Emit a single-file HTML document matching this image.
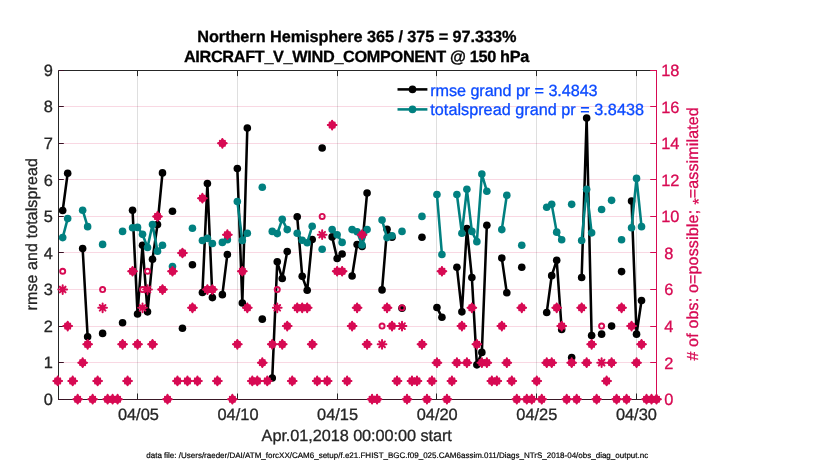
<!DOCTYPE html>
<html><head><meta charset="utf-8"><title>obs diag</title>
<style>html,body{margin:0;padding:0;background:#fff}svg{display:block;will-change:transform;opacity:.999}text{text-rendering:geometricPrecision}</style></head>
<body>
<svg width="830" height="470" viewBox="0 0 830 470">
<g>
<line x1="58.5" x2="656.5" y1="362.5" y2="362.5" stroke="#d70a53" stroke-opacity="0.16" stroke-width="1"/>
<line x1="58.5" x2="656.5" y1="326.5" y2="326.5" stroke="#d70a53" stroke-opacity="0.16" stroke-width="1"/>
<line x1="58.5" x2="656.5" y1="289.5" y2="289.5" stroke="#d70a53" stroke-opacity="0.16" stroke-width="1"/>
<line x1="58.5" x2="656.5" y1="252.5" y2="252.5" stroke="#d70a53" stroke-opacity="0.16" stroke-width="1"/>
<line x1="58.5" x2="656.5" y1="216.5" y2="216.5" stroke="#d70a53" stroke-opacity="0.16" stroke-width="1"/>
<line x1="58.5" x2="656.5" y1="179.5" y2="179.5" stroke="#d70a53" stroke-opacity="0.16" stroke-width="1"/>
<line x1="58.5" x2="656.5" y1="143.5" y2="143.5" stroke="#d70a53" stroke-opacity="0.16" stroke-width="1"/>
<line x1="58.5" x2="656.5" y1="106.5" y2="106.5" stroke="#d70a53" stroke-opacity="0.16" stroke-width="1"/>
<line x1="137.50" x2="137.50" y1="70.5" y2="399.5" stroke="#262626" stroke-opacity="0.15" stroke-width="1"/>
<line x1="237.50" x2="237.50" y1="70.5" y2="399.5" stroke="#262626" stroke-opacity="0.15" stroke-width="1"/>
<line x1="337.50" x2="337.50" y1="70.5" y2="399.5" stroke="#262626" stroke-opacity="0.15" stroke-width="1"/>
<line x1="436.50" x2="436.50" y1="70.5" y2="399.5" stroke="#262626" stroke-opacity="0.15" stroke-width="1"/>
<line x1="536.50" x2="536.50" y1="70.5" y2="399.5" stroke="#262626" stroke-opacity="0.15" stroke-width="1"/>
<line x1="636.50" x2="636.50" y1="70.5" y2="399.5" stroke="#262626" stroke-opacity="0.15" stroke-width="1"/>
<path d="M58.5 400.0V70.5H656.5" stroke="#262626" stroke-width="1" fill="none"/><path d="M58.5 399.5H656.5" stroke="#3a1826" stroke-width="1" fill="none"/>
<line x1="656.5" x2="656.5" y1="70.0" y2="400.0" stroke="#d70a53" stroke-width="1"/>
<path d="M137.50 399.5v-6M137.50 70.5v5.6" stroke="#262626" stroke-width="1"/>
<path d="M237.50 399.5v-6M237.50 70.5v5.6" stroke="#262626" stroke-width="1"/>
<path d="M337.50 399.5v-6M337.50 70.5v5.6" stroke="#262626" stroke-width="1"/>
<path d="M436.50 399.5v-6M436.50 70.5v5.6" stroke="#262626" stroke-width="1"/>
<path d="M536.50 399.5v-6M536.50 70.5v5.6" stroke="#262626" stroke-width="1"/>
<path d="M636.50 399.5v-6M636.50 70.5v5.6" stroke="#262626" stroke-width="1"/>
<path d="M58.5 399.5h5.3" stroke="#3a1024" stroke-width="1"/>
<path d="M58.5 362.5h5.3" stroke="#3a1024" stroke-width="1"/>
<path d="M58.5 326.5h5.3" stroke="#3a1024" stroke-width="1"/>
<path d="M58.5 289.5h5.3" stroke="#3a1024" stroke-width="1"/>
<path d="M58.5 252.5h5.3" stroke="#3a1024" stroke-width="1"/>
<path d="M58.5 216.5h5.3" stroke="#3a1024" stroke-width="1"/>
<path d="M58.5 179.5h5.3" stroke="#3a1024" stroke-width="1"/>
<path d="M58.5 143.5h5.3" stroke="#3a1024" stroke-width="1"/>
<path d="M58.5 106.5h5.3" stroke="#3a1024" stroke-width="1"/>
<path d="M58.5 70.5h5.3" stroke="#3a1024" stroke-width="1"/>
<path d="M656.5 399.5h-6.3" stroke="#d70a53" stroke-width="1"/>
<path d="M656.5 362.5h-6.3" stroke="#d70a53" stroke-width="1"/>
<path d="M656.5 326.5h-6.3" stroke="#d70a53" stroke-width="1"/>
<path d="M656.5 289.5h-6.3" stroke="#d70a53" stroke-width="1"/>
<path d="M656.5 252.5h-6.3" stroke="#d70a53" stroke-width="1"/>
<path d="M656.5 216.5h-6.3" stroke="#d70a53" stroke-width="1"/>
<path d="M656.5 179.5h-6.3" stroke="#d70a53" stroke-width="1"/>
<path d="M656.5 143.5h-6.3" stroke="#d70a53" stroke-width="1"/>
<path d="M656.5 106.5h-6.3" stroke="#d70a53" stroke-width="1"/>
<path d="M656.5 70.5h-6.3" stroke="#d70a53" stroke-width="1"/>
<polyline points="62.69,210.57 67.68,173.29" fill="none" stroke="#000000" stroke-width="2.55" stroke-linejoin="round" stroke-linecap="round"/>
<polyline points="82.65,248.59 87.64,336.69" fill="none" stroke="#000000" stroke-width="2.55" stroke-linejoin="round" stroke-linecap="round"/>
<polyline points="132.55,210.21 137.54,314.03 142.53,245.30 147.52,311.83 152.51,259.19 157.50,224.46 162.49,172.92" fill="none" stroke="#000000" stroke-width="2.55" stroke-linejoin="round" stroke-linecap="round"/>
<polyline points="202.41,292.46 207.40,183.52 212.39,297.58" fill="none" stroke="#000000" stroke-width="2.55" stroke-linejoin="round" stroke-linecap="round"/>
<polyline points="222.37,294.65 227.36,254.44" fill="none" stroke="#000000" stroke-width="2.55" stroke-linejoin="round" stroke-linecap="round"/>
<polyline points="237.34,168.53 242.33,303.06 247.32,127.96" fill="none" stroke="#000000" stroke-width="2.55" stroke-linejoin="round" stroke-linecap="round"/>
<polyline points="272.27,378.00 277.26,261.75 282.25,278.57 287.24,251.52" fill="none" stroke="#000000" stroke-width="2.55" stroke-linejoin="round" stroke-linecap="round"/>
<polyline points="297.22,216.79 302.21,276.37 307.20,290.26 312.19,239.45" fill="none" stroke="#000000" stroke-width="2.55" stroke-linejoin="round" stroke-linecap="round"/>
<polyline points="332.15,236.89 337.14,258.46 342.13,254.07" fill="none" stroke="#000000" stroke-width="2.55" stroke-linejoin="round" stroke-linecap="round"/>
<polyline points="352.11,276.01 357.10,244.57 362.09,246.40 367.08,193.03" fill="none" stroke="#000000" stroke-width="2.55" stroke-linejoin="round" stroke-linecap="round"/>
<polyline points="382.05,289.90 387.04,229.22 392.03,237.26" fill="none" stroke="#000000" stroke-width="2.55" stroke-linejoin="round" stroke-linecap="round"/>
<polyline points="436.94,307.45 441.93,317.32" fill="none" stroke="#000000" stroke-width="2.55" stroke-linejoin="round" stroke-linecap="round"/>
<polyline points="456.90,267.23 461.89,311.83 466.88,228.49 471.87,277.47 476.86,364.84 481.85,352.41 486.84,225.20" fill="none" stroke="#000000" stroke-width="2.55" stroke-linejoin="round" stroke-linecap="round"/>
<polyline points="501.81,258.10 506.80,292.82" fill="none" stroke="#000000" stroke-width="2.55" stroke-linejoin="round" stroke-linecap="round"/>
<polyline points="546.72,312.56 551.71,275.64 556.70,260.29 561.69,329.38" fill="none" stroke="#000000" stroke-width="2.55" stroke-linejoin="round" stroke-linecap="round"/>
<polyline points="581.65,277.47 586.64,118.09 591.63,335.59" fill="none" stroke="#000000" stroke-width="2.55" stroke-linejoin="round" stroke-linecap="round"/>
<polyline points="631.55,201.07 636.54,334.13 641.53,300.50" fill="none" stroke="#000000" stroke-width="2.55" stroke-linejoin="round" stroke-linecap="round"/>
<circle cx="62.69" cy="210.57" r="3.8" fill="#000000"/>
<circle cx="67.68" cy="173.29" r="3.8" fill="#000000"/>
<circle cx="82.65" cy="248.59" r="3.8" fill="#000000"/>
<circle cx="87.64" cy="336.69" r="3.8" fill="#000000"/>
<circle cx="102.61" cy="333.40" r="3.8" fill="#000000"/>
<circle cx="122.57" cy="322.80" r="3.8" fill="#000000"/>
<circle cx="132.55" cy="210.21" r="3.8" fill="#000000"/>
<circle cx="137.54" cy="314.03" r="3.8" fill="#000000"/>
<circle cx="142.53" cy="245.30" r="3.8" fill="#000000"/>
<circle cx="147.52" cy="311.83" r="3.8" fill="#000000"/>
<circle cx="152.51" cy="259.19" r="3.8" fill="#000000"/>
<circle cx="157.50" cy="224.46" r="3.8" fill="#000000"/>
<circle cx="162.49" cy="172.92" r="3.8" fill="#000000"/>
<circle cx="172.47" cy="211.30" r="3.8" fill="#000000"/>
<circle cx="182.45" cy="328.28" r="3.8" fill="#000000"/>
<circle cx="192.43" cy="264.68" r="3.8" fill="#000000"/>
<circle cx="202.41" cy="292.46" r="3.8" fill="#000000"/>
<circle cx="207.40" cy="183.52" r="3.8" fill="#000000"/>
<circle cx="212.39" cy="297.58" r="3.8" fill="#000000"/>
<circle cx="222.37" cy="294.65" r="3.8" fill="#000000"/>
<circle cx="227.36" cy="254.44" r="3.8" fill="#000000"/>
<circle cx="237.34" cy="168.53" r="3.8" fill="#000000"/>
<circle cx="242.33" cy="303.06" r="3.8" fill="#000000"/>
<circle cx="247.32" cy="127.96" r="3.8" fill="#000000"/>
<circle cx="262.29" cy="319.14" r="3.8" fill="#000000"/>
<circle cx="272.27" cy="378.00" r="3.8" fill="#000000"/>
<circle cx="277.26" cy="261.75" r="3.8" fill="#000000"/>
<circle cx="282.25" cy="278.57" r="3.8" fill="#000000"/>
<circle cx="287.24" cy="251.52" r="3.8" fill="#000000"/>
<circle cx="297.22" cy="216.79" r="3.8" fill="#000000"/>
<circle cx="302.21" cy="276.37" r="3.8" fill="#000000"/>
<circle cx="307.20" cy="290.26" r="3.8" fill="#000000"/>
<circle cx="312.19" cy="239.45" r="3.8" fill="#000000"/>
<circle cx="322.17" cy="148.06" r="3.8" fill="#000000"/>
<circle cx="332.15" cy="236.89" r="3.8" fill="#000000"/>
<circle cx="337.14" cy="258.46" r="3.8" fill="#000000"/>
<circle cx="342.13" cy="254.07" r="3.8" fill="#000000"/>
<circle cx="352.11" cy="276.01" r="3.8" fill="#000000"/>
<circle cx="357.10" cy="244.57" r="3.8" fill="#000000"/>
<circle cx="362.09" cy="246.40" r="3.8" fill="#000000"/>
<circle cx="367.08" cy="193.03" r="3.8" fill="#000000"/>
<circle cx="382.05" cy="289.90" r="3.8" fill="#000000"/>
<circle cx="387.04" cy="229.22" r="3.8" fill="#000000"/>
<circle cx="392.03" cy="237.26" r="3.8" fill="#000000"/>
<circle cx="402.01" cy="308.18" r="3.8" fill="#000000"/>
<circle cx="421.97" cy="237.26" r="3.8" fill="#000000"/>
<circle cx="436.94" cy="307.45" r="3.8" fill="#000000"/>
<circle cx="441.93" cy="317.32" r="3.8" fill="#000000"/>
<circle cx="456.90" cy="267.23" r="3.8" fill="#000000"/>
<circle cx="461.89" cy="311.83" r="3.8" fill="#000000"/>
<circle cx="466.88" cy="228.49" r="3.8" fill="#000000"/>
<circle cx="471.87" cy="277.47" r="3.8" fill="#000000"/>
<circle cx="476.86" cy="364.84" r="3.8" fill="#000000"/>
<circle cx="481.85" cy="352.41" r="3.8" fill="#000000"/>
<circle cx="486.84" cy="225.20" r="3.8" fill="#000000"/>
<circle cx="501.81" cy="258.10" r="3.8" fill="#000000"/>
<circle cx="506.80" cy="292.82" r="3.8" fill="#000000"/>
<circle cx="521.77" cy="267.23" r="3.8" fill="#000000"/>
<circle cx="546.72" cy="312.56" r="3.8" fill="#000000"/>
<circle cx="551.71" cy="275.64" r="3.8" fill="#000000"/>
<circle cx="556.70" cy="260.29" r="3.8" fill="#000000"/>
<circle cx="561.69" cy="329.38" r="3.8" fill="#000000"/>
<circle cx="571.67" cy="357.53" r="3.8" fill="#000000"/>
<circle cx="581.65" cy="277.47" r="3.8" fill="#000000"/>
<circle cx="586.64" cy="118.09" r="3.8" fill="#000000"/>
<circle cx="591.63" cy="335.59" r="3.8" fill="#000000"/>
<circle cx="601.61" cy="334.13" r="3.8" fill="#000000"/>
<circle cx="611.59" cy="326.09" r="3.8" fill="#000000"/>
<circle cx="621.57" cy="271.62" r="3.8" fill="#000000"/>
<circle cx="631.55" cy="201.07" r="3.8" fill="#000000"/>
<circle cx="636.54" cy="334.13" r="3.8" fill="#000000"/>
<circle cx="641.53" cy="300.50" r="3.8" fill="#000000"/>
<polyline points="62.69,237.62 67.68,218.62" fill="none" stroke="#008080" stroke-width="2.55" stroke-linejoin="round" stroke-linecap="round"/>
<polyline points="82.65,210.21 87.64,226.66" fill="none" stroke="#008080" stroke-width="2.55" stroke-linejoin="round" stroke-linecap="round"/>
<polyline points="132.55,227.75 137.54,227.39 142.53,234.33 147.52,247.49 152.51,224.46 157.50,251.15 162.49,245.30" fill="none" stroke="#008080" stroke-width="2.55" stroke-linejoin="round" stroke-linecap="round"/>
<polyline points="202.41,240.55 207.40,238.36 212.39,243.47" fill="none" stroke="#008080" stroke-width="2.55" stroke-linejoin="round" stroke-linecap="round"/>
<polyline points="222.37,242.38 227.36,239.82" fill="none" stroke="#008080" stroke-width="2.55" stroke-linejoin="round" stroke-linecap="round"/>
<polyline points="237.34,201.43 242.33,240.55 247.32,233.24" fill="none" stroke="#008080" stroke-width="2.55" stroke-linejoin="round" stroke-linecap="round"/>
<polyline points="272.27,231.41 277.26,233.60 282.25,219.35 287.24,229.58" fill="none" stroke="#008080" stroke-width="2.55" stroke-linejoin="round" stroke-linecap="round"/>
<polyline points="297.22,233.24 302.21,240.18 307.20,242.74 312.19,226.29" fill="none" stroke="#008080" stroke-width="2.55" stroke-linejoin="round" stroke-linecap="round"/>
<polyline points="332.15,229.58 337.14,234.70 342.13,242.38" fill="none" stroke="#008080" stroke-width="2.55" stroke-linejoin="round" stroke-linecap="round"/>
<polyline points="352.11,229.58 357.10,231.78 362.09,244.94 367.08,229.58" fill="none" stroke="#008080" stroke-width="2.55" stroke-linejoin="round" stroke-linecap="round"/>
<polyline points="382.05,220.08 387.04,237.62 392.03,235.80" fill="none" stroke="#008080" stroke-width="2.55" stroke-linejoin="round" stroke-linecap="round"/>
<polyline points="436.94,194.49 441.93,254.44" fill="none" stroke="#008080" stroke-width="2.55" stroke-linejoin="round" stroke-linecap="round"/>
<polyline points="456.90,194.49 461.89,233.24 466.88,189.37 471.87,231.41 476.86,241.65 481.85,174.02 486.84,191.20" fill="none" stroke="#008080" stroke-width="2.55" stroke-linejoin="round" stroke-linecap="round"/>
<polyline points="501.81,229.58 506.80,195.22" fill="none" stroke="#008080" stroke-width="2.55" stroke-linejoin="round" stroke-linecap="round"/>
<polyline points="546.72,207.28 551.71,204.36 556.70,232.14 561.69,239.82" fill="none" stroke="#008080" stroke-width="2.55" stroke-linejoin="round" stroke-linecap="round"/>
<polyline points="581.65,240.55 586.64,189.37 591.63,232.87" fill="none" stroke="#008080" stroke-width="2.55" stroke-linejoin="round" stroke-linecap="round"/>
<polyline points="631.55,227.75 636.54,178.40 641.53,226.66" fill="none" stroke="#008080" stroke-width="2.55" stroke-linejoin="round" stroke-linecap="round"/>
<circle cx="62.69" cy="237.62" r="3.8" fill="#008080"/>
<circle cx="67.68" cy="218.62" r="3.8" fill="#008080"/>
<circle cx="82.65" cy="210.21" r="3.8" fill="#008080"/>
<circle cx="87.64" cy="226.66" r="3.8" fill="#008080"/>
<circle cx="102.61" cy="244.39" r="3.8" fill="#008080"/>
<circle cx="122.57" cy="231.41" r="3.8" fill="#008080"/>
<circle cx="132.55" cy="227.75" r="3.8" fill="#008080"/>
<circle cx="137.54" cy="227.39" r="3.8" fill="#008080"/>
<circle cx="142.53" cy="234.33" r="3.8" fill="#008080"/>
<circle cx="147.52" cy="247.49" r="3.8" fill="#008080"/>
<circle cx="152.51" cy="224.46" r="3.8" fill="#008080"/>
<circle cx="157.50" cy="251.15" r="3.8" fill="#008080"/>
<circle cx="162.49" cy="245.30" r="3.8" fill="#008080"/>
<circle cx="172.47" cy="266.50" r="3.8" fill="#008080"/>
<circle cx="182.45" cy="252.98" r="3.8" fill="#008080"/>
<circle cx="192.43" cy="228.30" r="3.8" fill="#008080"/>
<circle cx="202.41" cy="240.55" r="3.8" fill="#008080"/>
<circle cx="207.40" cy="238.36" r="3.8" fill="#008080"/>
<circle cx="212.39" cy="243.47" r="3.8" fill="#008080"/>
<circle cx="222.37" cy="242.38" r="3.8" fill="#008080"/>
<circle cx="227.36" cy="239.82" r="3.8" fill="#008080"/>
<circle cx="237.34" cy="201.43" r="3.8" fill="#008080"/>
<circle cx="242.33" cy="240.55" r="3.8" fill="#008080"/>
<circle cx="247.32" cy="233.24" r="3.8" fill="#008080"/>
<circle cx="262.29" cy="187.18" r="3.8" fill="#008080"/>
<circle cx="272.27" cy="231.41" r="3.8" fill="#008080"/>
<circle cx="277.26" cy="233.60" r="3.8" fill="#008080"/>
<circle cx="282.25" cy="219.35" r="3.8" fill="#008080"/>
<circle cx="287.24" cy="229.58" r="3.8" fill="#008080"/>
<circle cx="297.22" cy="233.24" r="3.8" fill="#008080"/>
<circle cx="302.21" cy="240.18" r="3.8" fill="#008080"/>
<circle cx="307.20" cy="242.74" r="3.8" fill="#008080"/>
<circle cx="312.19" cy="226.29" r="3.8" fill="#008080"/>
<circle cx="322.17" cy="249.32" r="3.8" fill="#008080"/>
<circle cx="332.15" cy="229.58" r="3.8" fill="#008080"/>
<circle cx="337.14" cy="234.70" r="3.8" fill="#008080"/>
<circle cx="342.13" cy="242.38" r="3.8" fill="#008080"/>
<circle cx="352.11" cy="229.58" r="3.8" fill="#008080"/>
<circle cx="357.10" cy="231.78" r="3.8" fill="#008080"/>
<circle cx="362.09" cy="244.94" r="3.8" fill="#008080"/>
<circle cx="367.08" cy="229.58" r="3.8" fill="#008080"/>
<circle cx="382.05" cy="220.08" r="3.8" fill="#008080"/>
<circle cx="387.04" cy="237.62" r="3.8" fill="#008080"/>
<circle cx="392.03" cy="235.80" r="3.8" fill="#008080"/>
<circle cx="402.01" cy="231.41" r="3.8" fill="#008080"/>
<circle cx="421.97" cy="216.42" r="3.8" fill="#008080"/>
<circle cx="436.94" cy="194.49" r="3.8" fill="#008080"/>
<circle cx="441.93" cy="254.44" r="3.8" fill="#008080"/>
<circle cx="456.90" cy="194.49" r="3.8" fill="#008080"/>
<circle cx="461.89" cy="233.24" r="3.8" fill="#008080"/>
<circle cx="466.88" cy="189.37" r="3.8" fill="#008080"/>
<circle cx="471.87" cy="231.41" r="3.8" fill="#008080"/>
<circle cx="476.86" cy="241.65" r="3.8" fill="#008080"/>
<circle cx="481.85" cy="174.02" r="3.8" fill="#008080"/>
<circle cx="486.84" cy="191.20" r="3.8" fill="#008080"/>
<circle cx="501.81" cy="229.58" r="3.8" fill="#008080"/>
<circle cx="506.80" cy="195.22" r="3.8" fill="#008080"/>
<circle cx="521.77" cy="245.30" r="3.8" fill="#008080"/>
<circle cx="546.72" cy="207.28" r="3.8" fill="#008080"/>
<circle cx="551.71" cy="204.36" r="3.8" fill="#008080"/>
<circle cx="556.70" cy="232.14" r="3.8" fill="#008080"/>
<circle cx="561.69" cy="239.82" r="3.8" fill="#008080"/>
<circle cx="571.67" cy="204.36" r="3.8" fill="#008080"/>
<circle cx="581.65" cy="240.55" r="3.8" fill="#008080"/>
<circle cx="586.64" cy="189.37" r="3.8" fill="#008080"/>
<circle cx="591.63" cy="232.87" r="3.8" fill="#008080"/>
<circle cx="601.61" cy="209.48" r="3.8" fill="#008080"/>
<circle cx="611.59" cy="200.34" r="3.8" fill="#008080"/>
<circle cx="621.57" cy="239.82" r="3.8" fill="#008080"/>
<circle cx="631.55" cy="227.75" r="3.8" fill="#008080"/>
<circle cx="636.54" cy="178.40" r="3.8" fill="#008080"/>
<circle cx="641.53" cy="226.66" r="3.8" fill="#008080"/>
<circle cx="57.70" cy="380.92" r="2.55" fill="none" stroke="#d70a53" stroke-width="1.9"/>
<path d="M52.70 380.92L57.70 375.92L62.70 380.92L57.70 385.92Z" fill="#d70a53"/>
<path d="M53.35 380.92H62.05M57.70 376.57V385.27M55.20 378.42L60.20 383.42M55.20 383.42L60.20 378.42" stroke="#d70a53" stroke-width="2.0" stroke-linecap="round" fill="none"/>
<circle cx="62.69" cy="271.26" r="2.55" fill="none" stroke="#d70a53" stroke-width="1.9"/>
<path d="M58.34 289.53H67.04M62.69 285.18V293.88M59.84 286.68L65.54 292.38M59.84 292.38L65.54 286.68" stroke="#d70a53" stroke-width="2.0" stroke-linecap="round" fill="none"/>
<circle cx="67.68" cy="326.09" r="2.55" fill="none" stroke="#d70a53" stroke-width="1.9"/>
<path d="M62.68 326.09L67.68 321.09L72.68 326.09L67.68 331.09Z" fill="#d70a53"/>
<path d="M63.33 326.09H72.03M67.68 321.74V330.44M65.18 323.59L70.18 328.59M65.18 328.59L70.18 323.59" stroke="#d70a53" stroke-width="2.0" stroke-linecap="round" fill="none"/>
<circle cx="72.67" cy="380.92" r="2.55" fill="none" stroke="#d70a53" stroke-width="1.9"/>
<path d="M67.67 380.92L72.67 375.92L77.67 380.92L72.67 385.92Z" fill="#d70a53"/>
<path d="M68.32 380.92H77.02M72.67 376.57V385.27M70.17 378.42L75.17 383.42M70.17 383.42L75.17 378.42" stroke="#d70a53" stroke-width="2.0" stroke-linecap="round" fill="none"/>
<circle cx="77.66" cy="399.20" r="2.55" fill="none" stroke="#d70a53" stroke-width="1.9"/>
<path d="M72.66 399.20L77.66 394.20L82.66 399.20L77.66 404.20Z" fill="#d70a53"/>
<path d="M73.31 399.20H82.01M77.66 394.85V403.55M75.16 396.70L80.16 401.70M75.16 401.70L80.16 396.70" stroke="#d70a53" stroke-width="2.0" stroke-linecap="round" fill="none"/>
<circle cx="82.65" cy="362.64" r="2.55" fill="none" stroke="#d70a53" stroke-width="1.9"/>
<path d="M77.65 362.64L82.65 357.64L87.65 362.64L82.65 367.64Z" fill="#d70a53"/>
<path d="M78.30 362.64H87.00M82.65 358.29V366.99M80.15 360.14L85.15 365.14M80.15 365.14L85.15 360.14" stroke="#d70a53" stroke-width="2.0" stroke-linecap="round" fill="none"/>
<circle cx="87.64" cy="344.37" r="2.55" fill="none" stroke="#d70a53" stroke-width="1.9"/>
<path d="M82.64 344.37L87.64 339.37L92.64 344.37L87.64 349.37Z" fill="#d70a53"/>
<path d="M83.29 344.37H91.99M87.64 340.02V348.72M85.14 341.87L90.14 346.87M85.14 346.87L90.14 341.87" stroke="#d70a53" stroke-width="2.0" stroke-linecap="round" fill="none"/>
<circle cx="92.63" cy="399.20" r="2.55" fill="none" stroke="#d70a53" stroke-width="1.9"/>
<path d="M87.63 399.20L92.63 394.20L97.63 399.20L92.63 404.20Z" fill="#d70a53"/>
<path d="M88.28 399.20H96.98M92.63 394.85V403.55M90.13 396.70L95.13 401.70M90.13 401.70L95.13 396.70" stroke="#d70a53" stroke-width="2.0" stroke-linecap="round" fill="none"/>
<circle cx="97.62" cy="380.92" r="2.55" fill="none" stroke="#d70a53" stroke-width="1.9"/>
<path d="M92.62 380.92L97.62 375.92L102.62 380.92L97.62 385.92Z" fill="#d70a53"/>
<path d="M93.27 380.92H101.97M97.62 376.57V385.27M95.12 378.42L100.12 383.42M95.12 383.42L100.12 378.42" stroke="#d70a53" stroke-width="2.0" stroke-linecap="round" fill="none"/>
<circle cx="102.61" cy="289.53" r="2.55" fill="none" stroke="#d70a53" stroke-width="1.9"/>
<path d="M98.26 307.81H106.96M102.61 303.46V312.16M99.76 304.96L105.46 310.66M99.76 310.66L105.46 304.96" stroke="#d70a53" stroke-width="2.0" stroke-linecap="round" fill="none"/>
<circle cx="107.60" cy="399.20" r="2.55" fill="none" stroke="#d70a53" stroke-width="1.9"/>
<path d="M102.60 399.20L107.60 394.20L112.60 399.20L107.60 404.20Z" fill="#d70a53"/>
<path d="M103.25 399.20H111.95M107.60 394.85V403.55M105.10 396.70L110.10 401.70M105.10 401.70L110.10 396.70" stroke="#d70a53" stroke-width="2.0" stroke-linecap="round" fill="none"/>
<circle cx="112.59" cy="399.20" r="2.55" fill="none" stroke="#d70a53" stroke-width="1.9"/>
<path d="M107.59 399.20L112.59 394.20L117.59 399.20L112.59 404.20Z" fill="#d70a53"/>
<path d="M108.24 399.20H116.94M112.59 394.85V403.55M110.09 396.70L115.09 401.70M110.09 401.70L115.09 396.70" stroke="#d70a53" stroke-width="2.0" stroke-linecap="round" fill="none"/>
<circle cx="117.58" cy="399.20" r="2.55" fill="none" stroke="#d70a53" stroke-width="1.9"/>
<path d="M112.58 399.20L117.58 394.20L122.58 399.20L117.58 404.20Z" fill="#d70a53"/>
<path d="M113.23 399.20H121.93M117.58 394.85V403.55M115.08 396.70L120.08 401.70M115.08 401.70L120.08 396.70" stroke="#d70a53" stroke-width="2.0" stroke-linecap="round" fill="none"/>
<circle cx="122.57" cy="344.37" r="2.55" fill="none" stroke="#d70a53" stroke-width="1.9"/>
<path d="M117.57 344.37L122.57 339.37L127.57 344.37L122.57 349.37Z" fill="#d70a53"/>
<path d="M118.22 344.37H126.92M122.57 340.02V348.72M120.07 341.87L125.07 346.87M120.07 346.87L125.07 341.87" stroke="#d70a53" stroke-width="2.0" stroke-linecap="round" fill="none"/>
<circle cx="127.56" cy="380.92" r="2.55" fill="none" stroke="#d70a53" stroke-width="1.9"/>
<path d="M122.56 380.92L127.56 375.92L132.56 380.92L127.56 385.92Z" fill="#d70a53"/>
<path d="M123.21 380.92H131.91M127.56 376.57V385.27M125.06 378.42L130.06 383.42M125.06 383.42L130.06 378.42" stroke="#d70a53" stroke-width="2.0" stroke-linecap="round" fill="none"/>
<circle cx="132.55" cy="271.26" r="2.55" fill="none" stroke="#d70a53" stroke-width="1.9"/>
<path d="M127.55 271.26L132.55 266.26L137.55 271.26L132.55 276.26Z" fill="#d70a53"/>
<path d="M128.20 271.26H136.90M132.55 266.91V275.61M130.05 268.76L135.05 273.76M130.05 273.76L135.05 268.76" stroke="#d70a53" stroke-width="2.0" stroke-linecap="round" fill="none"/>
<circle cx="137.54" cy="344.37" r="2.55" fill="none" stroke="#d70a53" stroke-width="1.9"/>
<path d="M132.54 344.37L137.54 339.37L142.54 344.37L137.54 349.37Z" fill="#d70a53"/>
<path d="M133.19 344.37H141.89M137.54 340.02V348.72M135.04 341.87L140.04 346.87M135.04 346.87L140.04 341.87" stroke="#d70a53" stroke-width="2.0" stroke-linecap="round" fill="none"/>
<circle cx="142.53" cy="289.53" r="2.55" fill="none" stroke="#d70a53" stroke-width="1.9"/>
<path d="M138.18 307.81H146.88M142.53 303.46V312.16M139.68 304.96L145.38 310.66M139.68 310.66L145.38 304.96" stroke="#d70a53" stroke-width="2.0" stroke-linecap="round" fill="none"/>
<circle cx="147.52" cy="271.26" r="2.55" fill="none" stroke="#d70a53" stroke-width="1.9"/>
<path d="M143.17 289.53H151.87M147.52 285.18V293.88M144.67 286.68L150.37 292.38M144.67 292.38L150.37 286.68" stroke="#d70a53" stroke-width="2.0" stroke-linecap="round" fill="none"/>
<circle cx="152.51" cy="344.37" r="2.55" fill="none" stroke="#d70a53" stroke-width="1.9"/>
<path d="M147.51 344.37L152.51 339.37L157.51 344.37L152.51 349.37Z" fill="#d70a53"/>
<path d="M148.16 344.37H156.86M152.51 340.02V348.72M150.01 341.87L155.01 346.87M150.01 346.87L155.01 341.87" stroke="#d70a53" stroke-width="2.0" stroke-linecap="round" fill="none"/>
<circle cx="157.50" cy="216.42" r="2.55" fill="none" stroke="#d70a53" stroke-width="1.9"/>
<path d="M152.50 216.42L157.50 211.42L162.50 216.42L157.50 221.42Z" fill="#d70a53"/>
<path d="M153.15 216.42H161.85M157.50 212.07V220.77M155.00 213.92L160.00 218.92M155.00 218.92L160.00 213.92" stroke="#d70a53" stroke-width="2.0" stroke-linecap="round" fill="none"/>
<circle cx="162.49" cy="289.53" r="2.55" fill="none" stroke="#d70a53" stroke-width="1.9"/>
<path d="M157.49 289.53L162.49 284.53L167.49 289.53L162.49 294.53Z" fill="#d70a53"/>
<path d="M158.14 289.53H166.84M162.49 285.18V293.88M159.99 287.03L164.99 292.03M159.99 292.03L164.99 287.03" stroke="#d70a53" stroke-width="2.0" stroke-linecap="round" fill="none"/>
<circle cx="167.48" cy="399.20" r="2.55" fill="none" stroke="#d70a53" stroke-width="1.9"/>
<path d="M162.48 399.20L167.48 394.20L172.48 399.20L167.48 404.20Z" fill="#d70a53"/>
<path d="M163.13 399.20H171.83M167.48 394.85V403.55M164.98 396.70L169.98 401.70M164.98 401.70L169.98 396.70" stroke="#d70a53" stroke-width="2.0" stroke-linecap="round" fill="none"/>
<circle cx="172.47" cy="271.26" r="2.55" fill="none" stroke="#d70a53" stroke-width="1.9"/>
<path d="M167.47 271.26L172.47 266.26L177.47 271.26L172.47 276.26Z" fill="#d70a53"/>
<path d="M168.12 271.26H176.82M172.47 266.91V275.61M169.97 268.76L174.97 273.76M169.97 273.76L174.97 268.76" stroke="#d70a53" stroke-width="2.0" stroke-linecap="round" fill="none"/>
<circle cx="177.46" cy="380.92" r="2.55" fill="none" stroke="#d70a53" stroke-width="1.9"/>
<path d="M172.46 380.92L177.46 375.92L182.46 380.92L177.46 385.92Z" fill="#d70a53"/>
<path d="M173.11 380.92H181.81M177.46 376.57V385.27M174.96 378.42L179.96 383.42M174.96 383.42L179.96 378.42" stroke="#d70a53" stroke-width="2.0" stroke-linecap="round" fill="none"/>
<circle cx="182.45" cy="252.98" r="2.55" fill="none" stroke="#d70a53" stroke-width="1.9"/>
<path d="M177.45 252.98L182.45 247.98L187.45 252.98L182.45 257.98Z" fill="#d70a53"/>
<path d="M178.10 252.98H186.80M182.45 248.63V257.33M179.95 250.48L184.95 255.48M179.95 255.48L184.95 250.48" stroke="#d70a53" stroke-width="2.0" stroke-linecap="round" fill="none"/>
<circle cx="187.44" cy="380.92" r="2.55" fill="none" stroke="#d70a53" stroke-width="1.9"/>
<path d="M182.44 380.92L187.44 375.92L192.44 380.92L187.44 385.92Z" fill="#d70a53"/>
<path d="M183.09 380.92H191.79M187.44 376.57V385.27M184.94 378.42L189.94 383.42M184.94 383.42L189.94 378.42" stroke="#d70a53" stroke-width="2.0" stroke-linecap="round" fill="none"/>
<circle cx="192.43" cy="307.81" r="2.55" fill="none" stroke="#d70a53" stroke-width="1.9"/>
<path d="M187.43 307.81L192.43 302.81L197.43 307.81L192.43 312.81Z" fill="#d70a53"/>
<path d="M188.08 307.81H196.78M192.43 303.46V312.16M189.93 305.31L194.93 310.31M189.93 310.31L194.93 305.31" stroke="#d70a53" stroke-width="2.0" stroke-linecap="round" fill="none"/>
<circle cx="197.42" cy="380.92" r="2.55" fill="none" stroke="#d70a53" stroke-width="1.9"/>
<path d="M192.42 380.92L197.42 375.92L202.42 380.92L197.42 385.92Z" fill="#d70a53"/>
<path d="M193.07 380.92H201.77M197.42 376.57V385.27M194.92 378.42L199.92 383.42M194.92 383.42L199.92 378.42" stroke="#d70a53" stroke-width="2.0" stroke-linecap="round" fill="none"/>
<circle cx="202.41" cy="198.14" r="2.55" fill="none" stroke="#d70a53" stroke-width="1.9"/>
<path d="M197.41 198.14L202.41 193.14L207.41 198.14L202.41 203.14Z" fill="#d70a53"/>
<path d="M198.06 198.14H206.76M202.41 193.79V202.49M199.91 195.64L204.91 200.64M199.91 200.64L204.91 195.64" stroke="#d70a53" stroke-width="2.0" stroke-linecap="round" fill="none"/>
<circle cx="207.40" cy="289.53" r="2.55" fill="none" stroke="#d70a53" stroke-width="1.9"/>
<path d="M202.40 289.53L207.40 284.53L212.40 289.53L207.40 294.53Z" fill="#d70a53"/>
<path d="M203.05 289.53H211.75M207.40 285.18V293.88M204.90 287.03L209.90 292.03M204.90 292.03L209.90 287.03" stroke="#d70a53" stroke-width="2.0" stroke-linecap="round" fill="none"/>
<circle cx="212.39" cy="289.53" r="2.55" fill="none" stroke="#d70a53" stroke-width="1.9"/>
<path d="M207.39 289.53L212.39 284.53L217.39 289.53L212.39 294.53Z" fill="#d70a53"/>
<path d="M208.04 289.53H216.74M212.39 285.18V293.88M209.89 287.03L214.89 292.03M209.89 292.03L214.89 287.03" stroke="#d70a53" stroke-width="2.0" stroke-linecap="round" fill="none"/>
<circle cx="217.38" cy="380.92" r="2.55" fill="none" stroke="#d70a53" stroke-width="1.9"/>
<path d="M212.38 380.92L217.38 375.92L222.38 380.92L217.38 385.92Z" fill="#d70a53"/>
<path d="M213.03 380.92H221.73M217.38 376.57V385.27M214.88 378.42L219.88 383.42M214.88 383.42L219.88 378.42" stroke="#d70a53" stroke-width="2.0" stroke-linecap="round" fill="none"/>
<circle cx="222.37" cy="143.31" r="2.55" fill="none" stroke="#d70a53" stroke-width="1.9"/>
<path d="M217.37 143.31L222.37 138.31L227.37 143.31L222.37 148.31Z" fill="#d70a53"/>
<path d="M218.02 143.31H226.72M222.37 138.96V147.66M219.87 140.81L224.87 145.81M219.87 145.81L224.87 140.81" stroke="#d70a53" stroke-width="2.0" stroke-linecap="round" fill="none"/>
<circle cx="227.36" cy="234.70" r="2.55" fill="none" stroke="#d70a53" stroke-width="1.9"/>
<path d="M222.36 234.70L227.36 229.70L232.36 234.70L227.36 239.70Z" fill="#d70a53"/>
<path d="M223.01 234.70H231.71M227.36 230.35V239.05M224.86 232.20L229.86 237.20M224.86 237.20L229.86 232.20" stroke="#d70a53" stroke-width="2.0" stroke-linecap="round" fill="none"/>
<circle cx="232.35" cy="399.20" r="2.55" fill="none" stroke="#d70a53" stroke-width="1.9"/>
<path d="M227.35 399.20L232.35 394.20L237.35 399.20L232.35 404.20Z" fill="#d70a53"/>
<path d="M228.00 399.20H236.70M232.35 394.85V403.55M229.85 396.70L234.85 401.70M229.85 401.70L234.85 396.70" stroke="#d70a53" stroke-width="2.0" stroke-linecap="round" fill="none"/>
<circle cx="237.34" cy="344.37" r="2.55" fill="none" stroke="#d70a53" stroke-width="1.9"/>
<path d="M232.34 344.37L237.34 339.37L242.34 344.37L237.34 349.37Z" fill="#d70a53"/>
<path d="M232.99 344.37H241.69M237.34 340.02V348.72M234.84 341.87L239.84 346.87M234.84 346.87L239.84 341.87" stroke="#d70a53" stroke-width="2.0" stroke-linecap="round" fill="none"/>
<circle cx="242.33" cy="271.26" r="2.55" fill="none" stroke="#d70a53" stroke-width="1.9"/>
<path d="M237.33 271.26L242.33 266.26L247.33 271.26L242.33 276.26Z" fill="#d70a53"/>
<path d="M237.98 271.26H246.68M242.33 266.91V275.61M239.83 268.76L244.83 273.76M239.83 273.76L244.83 268.76" stroke="#d70a53" stroke-width="2.0" stroke-linecap="round" fill="none"/>
<circle cx="247.32" cy="307.81" r="2.55" fill="none" stroke="#d70a53" stroke-width="1.9"/>
<path d="M242.32 307.81L247.32 302.81L252.32 307.81L247.32 312.81Z" fill="#d70a53"/>
<path d="M242.97 307.81H251.67M247.32 303.46V312.16M244.82 305.31L249.82 310.31M244.82 310.31L249.82 305.31" stroke="#d70a53" stroke-width="2.0" stroke-linecap="round" fill="none"/>
<circle cx="252.31" cy="380.92" r="2.55" fill="none" stroke="#d70a53" stroke-width="1.9"/>
<path d="M247.31 380.92L252.31 375.92L257.31 380.92L252.31 385.92Z" fill="#d70a53"/>
<path d="M247.96 380.92H256.66M252.31 376.57V385.27M249.81 378.42L254.81 383.42M249.81 383.42L254.81 378.42" stroke="#d70a53" stroke-width="2.0" stroke-linecap="round" fill="none"/>
<circle cx="257.30" cy="380.92" r="2.55" fill="none" stroke="#d70a53" stroke-width="1.9"/>
<path d="M252.30 380.92L257.30 375.92L262.30 380.92L257.30 385.92Z" fill="#d70a53"/>
<path d="M252.95 380.92H261.65M257.30 376.57V385.27M254.80 378.42L259.80 383.42M254.80 383.42L259.80 378.42" stroke="#d70a53" stroke-width="2.0" stroke-linecap="round" fill="none"/>
<circle cx="262.29" cy="362.64" r="2.55" fill="none" stroke="#d70a53" stroke-width="1.9"/>
<path d="M257.29 362.64L262.29 357.64L267.29 362.64L262.29 367.64Z" fill="#d70a53"/>
<path d="M257.94 362.64H266.64M262.29 358.29V366.99M259.79 360.14L264.79 365.14M259.79 365.14L264.79 360.14" stroke="#d70a53" stroke-width="2.0" stroke-linecap="round" fill="none"/>
<circle cx="267.28" cy="380.92" r="2.55" fill="none" stroke="#d70a53" stroke-width="1.9"/>
<path d="M262.28 380.92L267.28 375.92L272.28 380.92L267.28 385.92Z" fill="#d70a53"/>
<path d="M262.93 380.92H271.63M267.28 376.57V385.27M264.78 378.42L269.78 383.42M264.78 383.42L269.78 378.42" stroke="#d70a53" stroke-width="2.0" stroke-linecap="round" fill="none"/>
<circle cx="272.27" cy="344.37" r="2.55" fill="none" stroke="#d70a53" stroke-width="1.9"/>
<path d="M267.27 344.37L272.27 339.37L277.27 344.37L272.27 349.37Z" fill="#d70a53"/>
<path d="M267.92 344.37H276.62M272.27 340.02V348.72M269.77 341.87L274.77 346.87M269.77 346.87L274.77 341.87" stroke="#d70a53" stroke-width="2.0" stroke-linecap="round" fill="none"/>
<circle cx="277.26" cy="289.53" r="2.55" fill="none" stroke="#d70a53" stroke-width="1.9"/>
<path d="M272.91 307.81H281.61M277.26 303.46V312.16M274.41 304.96L280.11 310.66M274.41 310.66L280.11 304.96" stroke="#d70a53" stroke-width="2.0" stroke-linecap="round" fill="none"/>
<circle cx="282.25" cy="344.37" r="2.55" fill="none" stroke="#d70a53" stroke-width="1.9"/>
<path d="M277.25 344.37L282.25 339.37L287.25 344.37L282.25 349.37Z" fill="#d70a53"/>
<path d="M277.90 344.37H286.60M282.25 340.02V348.72M279.75 341.87L284.75 346.87M279.75 346.87L284.75 341.87" stroke="#d70a53" stroke-width="2.0" stroke-linecap="round" fill="none"/>
<circle cx="287.24" cy="326.09" r="2.55" fill="none" stroke="#d70a53" stroke-width="1.9"/>
<path d="M282.24 326.09L287.24 321.09L292.24 326.09L287.24 331.09Z" fill="#d70a53"/>
<path d="M282.89 326.09H291.59M287.24 321.74V330.44M284.74 323.59L289.74 328.59M284.74 328.59L289.74 323.59" stroke="#d70a53" stroke-width="2.0" stroke-linecap="round" fill="none"/>
<circle cx="292.23" cy="380.92" r="2.55" fill="none" stroke="#d70a53" stroke-width="1.9"/>
<path d="M287.23 380.92L292.23 375.92L297.23 380.92L292.23 385.92Z" fill="#d70a53"/>
<path d="M287.88 380.92H296.58M292.23 376.57V385.27M289.73 378.42L294.73 383.42M289.73 383.42L294.73 378.42" stroke="#d70a53" stroke-width="2.0" stroke-linecap="round" fill="none"/>
<circle cx="297.22" cy="307.81" r="2.55" fill="none" stroke="#d70a53" stroke-width="1.9"/>
<path d="M292.22 307.81L297.22 302.81L302.22 307.81L297.22 312.81Z" fill="#d70a53"/>
<path d="M292.87 307.81H301.57M297.22 303.46V312.16M294.72 305.31L299.72 310.31M294.72 310.31L299.72 305.31" stroke="#d70a53" stroke-width="2.0" stroke-linecap="round" fill="none"/>
<circle cx="302.21" cy="307.81" r="2.55" fill="none" stroke="#d70a53" stroke-width="1.9"/>
<path d="M297.21 307.81L302.21 302.81L307.21 307.81L302.21 312.81Z" fill="#d70a53"/>
<path d="M297.86 307.81H306.56M302.21 303.46V312.16M299.71 305.31L304.71 310.31M299.71 310.31L304.71 305.31" stroke="#d70a53" stroke-width="2.0" stroke-linecap="round" fill="none"/>
<circle cx="307.20" cy="307.81" r="2.55" fill="none" stroke="#d70a53" stroke-width="1.9"/>
<path d="M302.20 307.81L307.20 302.81L312.20 307.81L307.20 312.81Z" fill="#d70a53"/>
<path d="M302.85 307.81H311.55M307.20 303.46V312.16M304.70 305.31L309.70 310.31M304.70 310.31L309.70 305.31" stroke="#d70a53" stroke-width="2.0" stroke-linecap="round" fill="none"/>
<circle cx="312.19" cy="344.37" r="2.55" fill="none" stroke="#d70a53" stroke-width="1.9"/>
<path d="M307.19 344.37L312.19 339.37L317.19 344.37L312.19 349.37Z" fill="#d70a53"/>
<path d="M307.84 344.37H316.54M312.19 340.02V348.72M309.69 341.87L314.69 346.87M309.69 346.87L314.69 341.87" stroke="#d70a53" stroke-width="2.0" stroke-linecap="round" fill="none"/>
<circle cx="317.18" cy="380.92" r="2.55" fill="none" stroke="#d70a53" stroke-width="1.9"/>
<path d="M312.18 380.92L317.18 375.92L322.18 380.92L317.18 385.92Z" fill="#d70a53"/>
<path d="M312.83 380.92H321.53M317.18 376.57V385.27M314.68 378.42L319.68 383.42M314.68 383.42L319.68 378.42" stroke="#d70a53" stroke-width="2.0" stroke-linecap="round" fill="none"/>
<circle cx="322.17" cy="216.42" r="2.55" fill="none" stroke="#d70a53" stroke-width="1.9"/>
<path d="M317.82 234.70H326.52M322.17 230.35V239.05M319.32 231.85L325.02 237.55M319.32 237.55L325.02 231.85" stroke="#d70a53" stroke-width="2.0" stroke-linecap="round" fill="none"/>
<circle cx="327.16" cy="380.92" r="2.55" fill="none" stroke="#d70a53" stroke-width="1.9"/>
<path d="M322.16 380.92L327.16 375.92L332.16 380.92L327.16 385.92Z" fill="#d70a53"/>
<path d="M322.81 380.92H331.51M327.16 376.57V385.27M324.66 378.42L329.66 383.42M324.66 383.42L329.66 378.42" stroke="#d70a53" stroke-width="2.0" stroke-linecap="round" fill="none"/>
<circle cx="332.15" cy="125.03" r="2.55" fill="none" stroke="#d70a53" stroke-width="1.9"/>
<path d="M327.15 125.03L332.15 120.03L337.15 125.03L332.15 130.03Z" fill="#d70a53"/>
<path d="M327.80 125.03H336.50M332.15 120.68V129.38M329.65 122.53L334.65 127.53M329.65 127.53L334.65 122.53" stroke="#d70a53" stroke-width="2.0" stroke-linecap="round" fill="none"/>
<circle cx="337.14" cy="271.26" r="2.55" fill="none" stroke="#d70a53" stroke-width="1.9"/>
<path d="M332.14 271.26L337.14 266.26L342.14 271.26L337.14 276.26Z" fill="#d70a53"/>
<path d="M332.79 271.26H341.49M337.14 266.91V275.61M334.64 268.76L339.64 273.76M334.64 273.76L339.64 268.76" stroke="#d70a53" stroke-width="2.0" stroke-linecap="round" fill="none"/>
<circle cx="342.13" cy="271.26" r="2.55" fill="none" stroke="#d70a53" stroke-width="1.9"/>
<path d="M337.13 271.26L342.13 266.26L347.13 271.26L342.13 276.26Z" fill="#d70a53"/>
<path d="M337.78 271.26H346.48M342.13 266.91V275.61M339.63 268.76L344.63 273.76M339.63 273.76L344.63 268.76" stroke="#d70a53" stroke-width="2.0" stroke-linecap="round" fill="none"/>
<circle cx="347.12" cy="380.92" r="2.55" fill="none" stroke="#d70a53" stroke-width="1.9"/>
<path d="M342.12 380.92L347.12 375.92L352.12 380.92L347.12 385.92Z" fill="#d70a53"/>
<path d="M342.77 380.92H351.47M347.12 376.57V385.27M344.62 378.42L349.62 383.42M344.62 383.42L349.62 378.42" stroke="#d70a53" stroke-width="2.0" stroke-linecap="round" fill="none"/>
<circle cx="352.11" cy="326.09" r="2.55" fill="none" stroke="#d70a53" stroke-width="1.9"/>
<path d="M347.11 326.09L352.11 321.09L357.11 326.09L352.11 331.09Z" fill="#d70a53"/>
<path d="M347.76 326.09H356.46M352.11 321.74V330.44M349.61 323.59L354.61 328.59M349.61 328.59L354.61 323.59" stroke="#d70a53" stroke-width="2.0" stroke-linecap="round" fill="none"/>
<circle cx="357.10" cy="307.81" r="2.55" fill="none" stroke="#d70a53" stroke-width="1.9"/>
<path d="M352.10 307.81L357.10 302.81L362.10 307.81L357.10 312.81Z" fill="#d70a53"/>
<path d="M352.75 307.81H361.45M357.10 303.46V312.16M354.60 305.31L359.60 310.31M354.60 310.31L359.60 305.31" stroke="#d70a53" stroke-width="2.0" stroke-linecap="round" fill="none"/>
<circle cx="362.09" cy="234.70" r="2.55" fill="none" stroke="#d70a53" stroke-width="1.9"/>
<path d="M357.09 234.70L362.09 229.70L367.09 234.70L362.09 239.70Z" fill="#d70a53"/>
<path d="M357.74 234.70H366.44M362.09 230.35V239.05M359.59 232.20L364.59 237.20M359.59 237.20L364.59 232.20" stroke="#d70a53" stroke-width="2.0" stroke-linecap="round" fill="none"/>
<circle cx="367.08" cy="344.37" r="2.55" fill="none" stroke="#d70a53" stroke-width="1.9"/>
<path d="M362.08 344.37L367.08 339.37L372.08 344.37L367.08 349.37Z" fill="#d70a53"/>
<path d="M362.73 344.37H371.43M367.08 340.02V348.72M364.58 341.87L369.58 346.87M364.58 346.87L369.58 341.87" stroke="#d70a53" stroke-width="2.0" stroke-linecap="round" fill="none"/>
<circle cx="372.07" cy="399.20" r="2.55" fill="none" stroke="#d70a53" stroke-width="1.9"/>
<path d="M367.07 399.20L372.07 394.20L377.07 399.20L372.07 404.20Z" fill="#d70a53"/>
<path d="M367.72 399.20H376.42M372.07 394.85V403.55M369.57 396.70L374.57 401.70M369.57 401.70L374.57 396.70" stroke="#d70a53" stroke-width="2.0" stroke-linecap="round" fill="none"/>
<circle cx="377.06" cy="399.20" r="2.55" fill="none" stroke="#d70a53" stroke-width="1.9"/>
<path d="M372.06 399.20L377.06 394.20L382.06 399.20L377.06 404.20Z" fill="#d70a53"/>
<path d="M372.71 399.20H381.41M377.06 394.85V403.55M374.56 396.70L379.56 401.70M374.56 401.70L379.56 396.70" stroke="#d70a53" stroke-width="2.0" stroke-linecap="round" fill="none"/>
<circle cx="382.05" cy="326.09" r="2.55" fill="none" stroke="#d70a53" stroke-width="1.9"/>
<path d="M377.70 344.37H386.40M382.05 340.02V348.72M379.20 341.52L384.90 347.22M379.20 347.22L384.90 341.52" stroke="#d70a53" stroke-width="2.0" stroke-linecap="round" fill="none"/>
<circle cx="387.04" cy="307.81" r="2.55" fill="none" stroke="#d70a53" stroke-width="1.9"/>
<path d="M382.04 307.81L387.04 302.81L392.04 307.81L387.04 312.81Z" fill="#d70a53"/>
<path d="M382.69 307.81H391.39M387.04 303.46V312.16M384.54 305.31L389.54 310.31M384.54 310.31L389.54 305.31" stroke="#d70a53" stroke-width="2.0" stroke-linecap="round" fill="none"/>
<circle cx="392.03" cy="326.09" r="2.55" fill="none" stroke="#d70a53" stroke-width="1.9"/>
<path d="M387.03 326.09L392.03 321.09L397.03 326.09L392.03 331.09Z" fill="#d70a53"/>
<path d="M387.68 326.09H396.38M392.03 321.74V330.44M389.53 323.59L394.53 328.59M389.53 328.59L394.53 323.59" stroke="#d70a53" stroke-width="2.0" stroke-linecap="round" fill="none"/>
<circle cx="397.02" cy="380.92" r="2.55" fill="none" stroke="#d70a53" stroke-width="1.9"/>
<path d="M392.02 380.92L397.02 375.92L402.02 380.92L397.02 385.92Z" fill="#d70a53"/>
<path d="M392.67 380.92H401.37M397.02 376.57V385.27M394.52 378.42L399.52 383.42M394.52 383.42L399.52 378.42" stroke="#d70a53" stroke-width="2.0" stroke-linecap="round" fill="none"/>
<circle cx="402.01" cy="307.81" r="2.55" fill="none" stroke="#d70a53" stroke-width="1.9"/>
<path d="M397.66 326.09H406.36M402.01 321.74V330.44M399.16 323.24L404.86 328.94M399.16 328.94L404.86 323.24" stroke="#d70a53" stroke-width="2.0" stroke-linecap="round" fill="none"/>
<circle cx="407.00" cy="399.20" r="2.55" fill="none" stroke="#d70a53" stroke-width="1.9"/>
<path d="M402.00 399.20L407.00 394.20L412.00 399.20L407.00 404.20Z" fill="#d70a53"/>
<path d="M402.65 399.20H411.35M407.00 394.85V403.55M404.50 396.70L409.50 401.70M404.50 401.70L409.50 396.70" stroke="#d70a53" stroke-width="2.0" stroke-linecap="round" fill="none"/>
<circle cx="411.99" cy="380.92" r="2.55" fill="none" stroke="#d70a53" stroke-width="1.9"/>
<path d="M406.99 380.92L411.99 375.92L416.99 380.92L411.99 385.92Z" fill="#d70a53"/>
<path d="M407.64 380.92H416.34M411.99 376.57V385.27M409.49 378.42L414.49 383.42M409.49 383.42L414.49 378.42" stroke="#d70a53" stroke-width="2.0" stroke-linecap="round" fill="none"/>
<circle cx="416.98" cy="380.92" r="2.55" fill="none" stroke="#d70a53" stroke-width="1.9"/>
<path d="M411.98 380.92L416.98 375.92L421.98 380.92L416.98 385.92Z" fill="#d70a53"/>
<path d="M412.63 380.92H421.33M416.98 376.57V385.27M414.48 378.42L419.48 383.42M414.48 383.42L419.48 378.42" stroke="#d70a53" stroke-width="2.0" stroke-linecap="round" fill="none"/>
<circle cx="421.97" cy="344.37" r="2.55" fill="none" stroke="#d70a53" stroke-width="1.9"/>
<path d="M416.97 344.37L421.97 339.37L426.97 344.37L421.97 349.37Z" fill="#d70a53"/>
<path d="M417.62 344.37H426.32M421.97 340.02V348.72M419.47 341.87L424.47 346.87M419.47 346.87L424.47 341.87" stroke="#d70a53" stroke-width="2.0" stroke-linecap="round" fill="none"/>
<circle cx="426.96" cy="399.20" r="2.55" fill="none" stroke="#d70a53" stroke-width="1.9"/>
<path d="M421.96 399.20L426.96 394.20L431.96 399.20L426.96 404.20Z" fill="#d70a53"/>
<path d="M422.61 399.20H431.31M426.96 394.85V403.55M424.46 396.70L429.46 401.70M424.46 401.70L429.46 396.70" stroke="#d70a53" stroke-width="2.0" stroke-linecap="round" fill="none"/>
<circle cx="431.95" cy="380.92" r="2.55" fill="none" stroke="#d70a53" stroke-width="1.9"/>
<path d="M426.95 380.92L431.95 375.92L436.95 380.92L431.95 385.92Z" fill="#d70a53"/>
<path d="M427.60 380.92H436.30M431.95 376.57V385.27M429.45 378.42L434.45 383.42M429.45 383.42L434.45 378.42" stroke="#d70a53" stroke-width="2.0" stroke-linecap="round" fill="none"/>
<circle cx="436.94" cy="362.64" r="2.55" fill="none" stroke="#d70a53" stroke-width="1.9"/>
<path d="M431.94 362.64L436.94 357.64L441.94 362.64L436.94 367.64Z" fill="#d70a53"/>
<path d="M432.59 362.64H441.29M436.94 358.29V366.99M434.44 360.14L439.44 365.14M434.44 365.14L439.44 360.14" stroke="#d70a53" stroke-width="2.0" stroke-linecap="round" fill="none"/>
<circle cx="441.93" cy="271.26" r="2.55" fill="none" stroke="#d70a53" stroke-width="1.9"/>
<path d="M436.93 271.26L441.93 266.26L446.93 271.26L441.93 276.26Z" fill="#d70a53"/>
<path d="M437.58 271.26H446.28M441.93 266.91V275.61M439.43 268.76L444.43 273.76M439.43 273.76L444.43 268.76" stroke="#d70a53" stroke-width="2.0" stroke-linecap="round" fill="none"/>
<circle cx="446.92" cy="399.20" r="2.55" fill="none" stroke="#d70a53" stroke-width="1.9"/>
<path d="M441.92 399.20L446.92 394.20L451.92 399.20L446.92 404.20Z" fill="#d70a53"/>
<path d="M442.57 399.20H451.27M446.92 394.85V403.55M444.42 396.70L449.42 401.70M444.42 401.70L449.42 396.70" stroke="#d70a53" stroke-width="2.0" stroke-linecap="round" fill="none"/>
<circle cx="451.91" cy="380.92" r="2.55" fill="none" stroke="#d70a53" stroke-width="1.9"/>
<path d="M446.91 380.92L451.91 375.92L456.91 380.92L451.91 385.92Z" fill="#d70a53"/>
<path d="M447.56 380.92H456.26M451.91 376.57V385.27M449.41 378.42L454.41 383.42M449.41 383.42L454.41 378.42" stroke="#d70a53" stroke-width="2.0" stroke-linecap="round" fill="none"/>
<circle cx="456.90" cy="362.64" r="2.55" fill="none" stroke="#d70a53" stroke-width="1.9"/>
<path d="M451.90 362.64L456.90 357.64L461.90 362.64L456.90 367.64Z" fill="#d70a53"/>
<path d="M452.55 362.64H461.25M456.90 358.29V366.99M454.40 360.14L459.40 365.14M454.40 365.14L459.40 360.14" stroke="#d70a53" stroke-width="2.0" stroke-linecap="round" fill="none"/>
<circle cx="461.89" cy="326.09" r="2.55" fill="none" stroke="#d70a53" stroke-width="1.9"/>
<path d="M456.89 326.09L461.89 321.09L466.89 326.09L461.89 331.09Z" fill="#d70a53"/>
<path d="M457.54 326.09H466.24M461.89 321.74V330.44M459.39 323.59L464.39 328.59M459.39 328.59L464.39 323.59" stroke="#d70a53" stroke-width="2.0" stroke-linecap="round" fill="none"/>
<circle cx="466.88" cy="362.64" r="2.55" fill="none" stroke="#d70a53" stroke-width="1.9"/>
<path d="M461.88 362.64L466.88 357.64L471.88 362.64L466.88 367.64Z" fill="#d70a53"/>
<path d="M462.53 362.64H471.23M466.88 358.29V366.99M464.38 360.14L469.38 365.14M464.38 365.14L469.38 360.14" stroke="#d70a53" stroke-width="2.0" stroke-linecap="round" fill="none"/>
<circle cx="471.87" cy="307.81" r="2.55" fill="none" stroke="#d70a53" stroke-width="1.9"/>
<path d="M466.87 307.81L471.87 302.81L476.87 307.81L471.87 312.81Z" fill="#d70a53"/>
<path d="M467.52 307.81H476.22M471.87 303.46V312.16M469.37 305.31L474.37 310.31M469.37 310.31L474.37 305.31" stroke="#d70a53" stroke-width="2.0" stroke-linecap="round" fill="none"/>
<circle cx="476.86" cy="344.37" r="2.55" fill="none" stroke="#d70a53" stroke-width="1.9"/>
<path d="M471.86 344.37L476.86 339.37L481.86 344.37L476.86 349.37Z" fill="#d70a53"/>
<path d="M472.51 344.37H481.21M476.86 340.02V348.72M474.36 341.87L479.36 346.87M474.36 346.87L479.36 341.87" stroke="#d70a53" stroke-width="2.0" stroke-linecap="round" fill="none"/>
<circle cx="481.85" cy="362.64" r="2.55" fill="none" stroke="#d70a53" stroke-width="1.9"/>
<path d="M476.85 362.64L481.85 357.64L486.85 362.64L481.85 367.64Z" fill="#d70a53"/>
<path d="M477.50 362.64H486.20M481.85 358.29V366.99M479.35 360.14L484.35 365.14M479.35 365.14L484.35 360.14" stroke="#d70a53" stroke-width="2.0" stroke-linecap="round" fill="none"/>
<circle cx="486.84" cy="362.64" r="2.55" fill="none" stroke="#d70a53" stroke-width="1.9"/>
<path d="M481.84 362.64L486.84 357.64L491.84 362.64L486.84 367.64Z" fill="#d70a53"/>
<path d="M482.49 362.64H491.19M486.84 358.29V366.99M484.34 360.14L489.34 365.14M484.34 365.14L489.34 360.14" stroke="#d70a53" stroke-width="2.0" stroke-linecap="round" fill="none"/>
<circle cx="491.83" cy="380.92" r="2.55" fill="none" stroke="#d70a53" stroke-width="1.9"/>
<path d="M486.83 380.92L491.83 375.92L496.83 380.92L491.83 385.92Z" fill="#d70a53"/>
<path d="M487.48 380.92H496.18M491.83 376.57V385.27M489.33 378.42L494.33 383.42M489.33 383.42L494.33 378.42" stroke="#d70a53" stroke-width="2.0" stroke-linecap="round" fill="none"/>
<circle cx="496.82" cy="380.92" r="2.55" fill="none" stroke="#d70a53" stroke-width="1.9"/>
<path d="M491.82 380.92L496.82 375.92L501.82 380.92L496.82 385.92Z" fill="#d70a53"/>
<path d="M492.47 380.92H501.17M496.82 376.57V385.27M494.32 378.42L499.32 383.42M494.32 383.42L499.32 378.42" stroke="#d70a53" stroke-width="2.0" stroke-linecap="round" fill="none"/>
<circle cx="501.81" cy="326.09" r="2.55" fill="none" stroke="#d70a53" stroke-width="1.9"/>
<path d="M496.81 326.09L501.81 321.09L506.81 326.09L501.81 331.09Z" fill="#d70a53"/>
<path d="M497.46 326.09H506.16M501.81 321.74V330.44M499.31 323.59L504.31 328.59M499.31 328.59L504.31 323.59" stroke="#d70a53" stroke-width="2.0" stroke-linecap="round" fill="none"/>
<circle cx="506.80" cy="362.64" r="2.55" fill="none" stroke="#d70a53" stroke-width="1.9"/>
<path d="M501.80 362.64L506.80 357.64L511.80 362.64L506.80 367.64Z" fill="#d70a53"/>
<path d="M502.45 362.64H511.15M506.80 358.29V366.99M504.30 360.14L509.30 365.14M504.30 365.14L509.30 360.14" stroke="#d70a53" stroke-width="2.0" stroke-linecap="round" fill="none"/>
<circle cx="511.79" cy="380.92" r="2.55" fill="none" stroke="#d70a53" stroke-width="1.9"/>
<path d="M506.79 380.92L511.79 375.92L516.79 380.92L511.79 385.92Z" fill="#d70a53"/>
<path d="M507.44 380.92H516.14M511.79 376.57V385.27M509.29 378.42L514.29 383.42M509.29 383.42L514.29 378.42" stroke="#d70a53" stroke-width="2.0" stroke-linecap="round" fill="none"/>
<circle cx="516.78" cy="399.20" r="2.55" fill="none" stroke="#d70a53" stroke-width="1.9"/>
<path d="M511.78 399.20L516.78 394.20L521.78 399.20L516.78 404.20Z" fill="#d70a53"/>
<path d="M512.43 399.20H521.13M516.78 394.85V403.55M514.28 396.70L519.28 401.70M514.28 401.70L519.28 396.70" stroke="#d70a53" stroke-width="2.0" stroke-linecap="round" fill="none"/>
<circle cx="521.77" cy="307.81" r="2.55" fill="none" stroke="#d70a53" stroke-width="1.9"/>
<path d="M516.77 307.81L521.77 302.81L526.77 307.81L521.77 312.81Z" fill="#d70a53"/>
<path d="M517.42 307.81H526.12M521.77 303.46V312.16M519.27 305.31L524.27 310.31M519.27 310.31L524.27 305.31" stroke="#d70a53" stroke-width="2.0" stroke-linecap="round" fill="none"/>
<circle cx="526.76" cy="399.20" r="2.55" fill="none" stroke="#d70a53" stroke-width="1.9"/>
<path d="M521.76 399.20L526.76 394.20L531.76 399.20L526.76 404.20Z" fill="#d70a53"/>
<path d="M522.41 399.20H531.11M526.76 394.85V403.55M524.26 396.70L529.26 401.70M524.26 401.70L529.26 396.70" stroke="#d70a53" stroke-width="2.0" stroke-linecap="round" fill="none"/>
<circle cx="531.75" cy="399.20" r="2.55" fill="none" stroke="#d70a53" stroke-width="1.9"/>
<path d="M526.75 399.20L531.75 394.20L536.75 399.20L531.75 404.20Z" fill="#d70a53"/>
<path d="M527.40 399.20H536.10M531.75 394.85V403.55M529.25 396.70L534.25 401.70M529.25 401.70L534.25 396.70" stroke="#d70a53" stroke-width="2.0" stroke-linecap="round" fill="none"/>
<circle cx="536.74" cy="380.92" r="2.55" fill="none" stroke="#d70a53" stroke-width="1.9"/>
<path d="M531.74 380.92L536.74 375.92L541.74 380.92L536.74 385.92Z" fill="#d70a53"/>
<path d="M532.39 380.92H541.09M536.74 376.57V385.27M534.24 378.42L539.24 383.42M534.24 383.42L539.24 378.42" stroke="#d70a53" stroke-width="2.0" stroke-linecap="round" fill="none"/>
<circle cx="541.73" cy="399.20" r="2.55" fill="none" stroke="#d70a53" stroke-width="1.9"/>
<path d="M536.73 399.20L541.73 394.20L546.73 399.20L541.73 404.20Z" fill="#d70a53"/>
<path d="M537.38 399.20H546.08M541.73 394.85V403.55M539.23 396.70L544.23 401.70M539.23 401.70L544.23 396.70" stroke="#d70a53" stroke-width="2.0" stroke-linecap="round" fill="none"/>
<circle cx="546.72" cy="362.64" r="2.55" fill="none" stroke="#d70a53" stroke-width="1.9"/>
<path d="M541.72 362.64L546.72 357.64L551.72 362.64L546.72 367.64Z" fill="#d70a53"/>
<path d="M542.37 362.64H551.07M546.72 358.29V366.99M544.22 360.14L549.22 365.14M544.22 365.14L549.22 360.14" stroke="#d70a53" stroke-width="2.0" stroke-linecap="round" fill="none"/>
<circle cx="551.71" cy="362.64" r="2.55" fill="none" stroke="#d70a53" stroke-width="1.9"/>
<path d="M546.71 362.64L551.71 357.64L556.71 362.64L551.71 367.64Z" fill="#d70a53"/>
<path d="M547.36 362.64H556.06M551.71 358.29V366.99M549.21 360.14L554.21 365.14M549.21 365.14L554.21 360.14" stroke="#d70a53" stroke-width="2.0" stroke-linecap="round" fill="none"/>
<circle cx="556.70" cy="307.81" r="2.55" fill="none" stroke="#d70a53" stroke-width="1.9"/>
<path d="M551.70 307.81L556.70 302.81L561.70 307.81L556.70 312.81Z" fill="#d70a53"/>
<path d="M552.35 307.81H561.05M556.70 303.46V312.16M554.20 305.31L559.20 310.31M554.20 310.31L559.20 305.31" stroke="#d70a53" stroke-width="2.0" stroke-linecap="round" fill="none"/>
<circle cx="561.69" cy="326.09" r="2.55" fill="none" stroke="#d70a53" stroke-width="1.9"/>
<path d="M556.69 326.09L561.69 321.09L566.69 326.09L561.69 331.09Z" fill="#d70a53"/>
<path d="M557.34 326.09H566.04M561.69 321.74V330.44M559.19 323.59L564.19 328.59M559.19 328.59L564.19 323.59" stroke="#d70a53" stroke-width="2.0" stroke-linecap="round" fill="none"/>
<circle cx="566.68" cy="399.20" r="2.55" fill="none" stroke="#d70a53" stroke-width="1.9"/>
<path d="M561.68 399.20L566.68 394.20L571.68 399.20L566.68 404.20Z" fill="#d70a53"/>
<path d="M562.33 399.20H571.03M566.68 394.85V403.55M564.18 396.70L569.18 401.70M564.18 401.70L569.18 396.70" stroke="#d70a53" stroke-width="2.0" stroke-linecap="round" fill="none"/>
<circle cx="571.67" cy="362.64" r="2.55" fill="none" stroke="#d70a53" stroke-width="1.9"/>
<path d="M566.67 362.64L571.67 357.64L576.67 362.64L571.67 367.64Z" fill="#d70a53"/>
<path d="M567.32 362.64H576.02M571.67 358.29V366.99M569.17 360.14L574.17 365.14M569.17 365.14L574.17 360.14" stroke="#d70a53" stroke-width="2.0" stroke-linecap="round" fill="none"/>
<circle cx="576.66" cy="399.20" r="2.55" fill="none" stroke="#d70a53" stroke-width="1.9"/>
<path d="M571.66 399.20L576.66 394.20L581.66 399.20L576.66 404.20Z" fill="#d70a53"/>
<path d="M572.31 399.20H581.01M576.66 394.85V403.55M574.16 396.70L579.16 401.70M574.16 401.70L579.16 396.70" stroke="#d70a53" stroke-width="2.0" stroke-linecap="round" fill="none"/>
<circle cx="581.65" cy="307.81" r="2.55" fill="none" stroke="#d70a53" stroke-width="1.9"/>
<path d="M576.65 307.81L581.65 302.81L586.65 307.81L581.65 312.81Z" fill="#d70a53"/>
<path d="M577.30 307.81H586.00M581.65 303.46V312.16M579.15 305.31L584.15 310.31M579.15 310.31L584.15 305.31" stroke="#d70a53" stroke-width="2.0" stroke-linecap="round" fill="none"/>
<circle cx="586.64" cy="362.64" r="2.55" fill="none" stroke="#d70a53" stroke-width="1.9"/>
<path d="M581.64 362.64L586.64 357.64L591.64 362.64L586.64 367.64Z" fill="#d70a53"/>
<path d="M582.29 362.64H590.99M586.64 358.29V366.99M584.14 360.14L589.14 365.14M584.14 365.14L589.14 360.14" stroke="#d70a53" stroke-width="2.0" stroke-linecap="round" fill="none"/>
<circle cx="591.63" cy="344.37" r="2.55" fill="none" stroke="#d70a53" stroke-width="1.9"/>
<path d="M586.63 344.37L591.63 339.37L596.63 344.37L591.63 349.37Z" fill="#d70a53"/>
<path d="M587.28 344.37H595.98M591.63 340.02V348.72M589.13 341.87L594.13 346.87M589.13 346.87L594.13 341.87" stroke="#d70a53" stroke-width="2.0" stroke-linecap="round" fill="none"/>
<circle cx="596.62" cy="399.20" r="2.55" fill="none" stroke="#d70a53" stroke-width="1.9"/>
<path d="M591.62 399.20L596.62 394.20L601.62 399.20L596.62 404.20Z" fill="#d70a53"/>
<path d="M592.27 399.20H600.97M596.62 394.85V403.55M594.12 396.70L599.12 401.70M594.12 401.70L599.12 396.70" stroke="#d70a53" stroke-width="2.0" stroke-linecap="round" fill="none"/>
<circle cx="601.61" cy="326.09" r="2.55" fill="none" stroke="#d70a53" stroke-width="1.9"/>
<path d="M597.26 362.64H605.96M601.61 358.29V366.99M598.76 359.79L604.46 365.49M598.76 365.49L604.46 359.79" stroke="#d70a53" stroke-width="2.0" stroke-linecap="round" fill="none"/>
<circle cx="606.60" cy="380.92" r="2.55" fill="none" stroke="#d70a53" stroke-width="1.9"/>
<path d="M601.60 380.92L606.60 375.92L611.60 380.92L606.60 385.92Z" fill="#d70a53"/>
<path d="M602.25 380.92H610.95M606.60 376.57V385.27M604.10 378.42L609.10 383.42M604.10 383.42L609.10 378.42" stroke="#d70a53" stroke-width="2.0" stroke-linecap="round" fill="none"/>
<circle cx="611.59" cy="362.64" r="2.55" fill="none" stroke="#d70a53" stroke-width="1.9"/>
<path d="M606.59 362.64L611.59 357.64L616.59 362.64L611.59 367.64Z" fill="#d70a53"/>
<path d="M607.24 362.64H615.94M611.59 358.29V366.99M609.09 360.14L614.09 365.14M609.09 365.14L614.09 360.14" stroke="#d70a53" stroke-width="2.0" stroke-linecap="round" fill="none"/>
<circle cx="616.58" cy="399.20" r="2.55" fill="none" stroke="#d70a53" stroke-width="1.9"/>
<path d="M611.58 399.20L616.58 394.20L621.58 399.20L616.58 404.20Z" fill="#d70a53"/>
<path d="M612.23 399.20H620.93M616.58 394.85V403.55M614.08 396.70L619.08 401.70M614.08 401.70L619.08 396.70" stroke="#d70a53" stroke-width="2.0" stroke-linecap="round" fill="none"/>
<circle cx="621.57" cy="307.81" r="2.55" fill="none" stroke="#d70a53" stroke-width="1.9"/>
<path d="M616.57 307.81L621.57 302.81L626.57 307.81L621.57 312.81Z" fill="#d70a53"/>
<path d="M617.22 307.81H625.92M621.57 303.46V312.16M619.07 305.31L624.07 310.31M619.07 310.31L624.07 305.31" stroke="#d70a53" stroke-width="2.0" stroke-linecap="round" fill="none"/>
<circle cx="626.56" cy="399.20" r="2.55" fill="none" stroke="#d70a53" stroke-width="1.9"/>
<path d="M621.56 399.20L626.56 394.20L631.56 399.20L626.56 404.20Z" fill="#d70a53"/>
<path d="M622.21 399.20H630.91M626.56 394.85V403.55M624.06 396.70L629.06 401.70M624.06 401.70L629.06 396.70" stroke="#d70a53" stroke-width="2.0" stroke-linecap="round" fill="none"/>
<circle cx="631.55" cy="326.09" r="2.55" fill="none" stroke="#d70a53" stroke-width="1.9"/>
<path d="M626.55 326.09L631.55 321.09L636.55 326.09L631.55 331.09Z" fill="#d70a53"/>
<path d="M627.20 326.09H635.90M631.55 321.74V330.44M629.05 323.59L634.05 328.59M629.05 328.59L634.05 323.59" stroke="#d70a53" stroke-width="2.0" stroke-linecap="round" fill="none"/>
<circle cx="636.54" cy="362.64" r="2.55" fill="none" stroke="#d70a53" stroke-width="1.9"/>
<path d="M631.54 362.64L636.54 357.64L641.54 362.64L636.54 367.64Z" fill="#d70a53"/>
<path d="M632.19 362.64H640.89M636.54 358.29V366.99M634.04 360.14L639.04 365.14M634.04 365.14L639.04 360.14" stroke="#d70a53" stroke-width="2.0" stroke-linecap="round" fill="none"/>
<circle cx="641.53" cy="344.37" r="2.55" fill="none" stroke="#d70a53" stroke-width="1.9"/>
<path d="M636.53 344.37L641.53 339.37L646.53 344.37L641.53 349.37Z" fill="#d70a53"/>
<path d="M637.18 344.37H645.88M641.53 340.02V348.72M639.03 341.87L644.03 346.87M639.03 346.87L644.03 341.87" stroke="#d70a53" stroke-width="2.0" stroke-linecap="round" fill="none"/>
<circle cx="646.52" cy="399.20" r="2.55" fill="none" stroke="#d70a53" stroke-width="1.9"/>
<path d="M641.52 399.20L646.52 394.20L651.52 399.20L646.52 404.20Z" fill="#d70a53"/>
<path d="M642.17 399.20H650.87M646.52 394.85V403.55M644.02 396.70L649.02 401.70M644.02 401.70L649.02 396.70" stroke="#d70a53" stroke-width="2.0" stroke-linecap="round" fill="none"/>
<circle cx="651.51" cy="399.20" r="2.55" fill="none" stroke="#d70a53" stroke-width="1.9"/>
<path d="M646.51 399.20L651.51 394.20L656.51 399.20L651.51 404.20Z" fill="#d70a53"/>
<path d="M647.16 399.20H655.86M651.51 394.85V403.55M649.01 396.70L654.01 401.70M649.01 401.70L654.01 396.70" stroke="#d70a53" stroke-width="2.0" stroke-linecap="round" fill="none"/>
<circle cx="656.50" cy="399.20" r="2.55" fill="none" stroke="#d70a53" stroke-width="1.9"/>
<path d="M651.50 399.20L656.50 394.20L661.50 399.20L656.50 404.20Z" fill="#d70a53"/>
<path d="M652.15 399.20H660.85M656.50 394.85V403.55M654.00 396.70L659.00 401.70M654.00 401.70L659.00 396.70" stroke="#d70a53" stroke-width="2.0" stroke-linecap="round" fill="none"/>
<line x1="397.5" x2="427.4" y1="89.4" y2="89.4" stroke="#000000" stroke-width="2.55"/><circle cx="412.5" cy="89.4" r="3.8" fill="#000000"/>
<line x1="397.5" x2="427.4" y1="109.4" y2="109.4" stroke="#008080" stroke-width="2.55"/><circle cx="412.5" cy="109.4" r="3.8" fill="#008080"/>
<text x="430.3" y="95.5" font-family="Liberation Sans, Arial, Helvetica, sans-serif" font-size="16.2" textLength="167.3" lengthAdjust="spacing" fill="#0b4aff" stroke="#0b4aff" stroke-width="0.3">rmse grand pr = 3.4843</text>
<text x="430.3" y="115.3" font-family="Liberation Sans, Arial, Helvetica, sans-serif" font-size="16.2" textLength="213.7" lengthAdjust="spacing" fill="#0b4aff" stroke="#0b4aff" stroke-width="0.3">totalspread grand pr = 3.8438</text>
<text x="52.8" y="404.90" text-anchor="end" font-family="Liberation Sans, Arial, Helvetica, sans-serif" font-size="16.4" fill="#262626" stroke="#262626" stroke-width="0.3">0</text>
<text x="52.8" y="368.34" text-anchor="end" font-family="Liberation Sans, Arial, Helvetica, sans-serif" font-size="16.4" fill="#262626" stroke="#262626" stroke-width="0.3">1</text>
<text x="52.8" y="331.79" text-anchor="end" font-family="Liberation Sans, Arial, Helvetica, sans-serif" font-size="16.4" fill="#262626" stroke="#262626" stroke-width="0.3">2</text>
<text x="52.8" y="295.23" text-anchor="end" font-family="Liberation Sans, Arial, Helvetica, sans-serif" font-size="16.4" fill="#262626" stroke="#262626" stroke-width="0.3">3</text>
<text x="52.8" y="258.68" text-anchor="end" font-family="Liberation Sans, Arial, Helvetica, sans-serif" font-size="16.4" fill="#262626" stroke="#262626" stroke-width="0.3">4</text>
<text x="52.8" y="222.12" text-anchor="end" font-family="Liberation Sans, Arial, Helvetica, sans-serif" font-size="16.4" fill="#262626" stroke="#262626" stroke-width="0.3">5</text>
<text x="52.8" y="185.57" text-anchor="end" font-family="Liberation Sans, Arial, Helvetica, sans-serif" font-size="16.4" fill="#262626" stroke="#262626" stroke-width="0.3">6</text>
<text x="52.8" y="149.01" text-anchor="end" font-family="Liberation Sans, Arial, Helvetica, sans-serif" font-size="16.4" fill="#262626" stroke="#262626" stroke-width="0.3">7</text>
<text x="52.8" y="112.46" text-anchor="end" font-family="Liberation Sans, Arial, Helvetica, sans-serif" font-size="16.4" fill="#262626" stroke="#262626" stroke-width="0.3">8</text>
<text x="52.8" y="75.90" text-anchor="end" font-family="Liberation Sans, Arial, Helvetica, sans-serif" font-size="16.4" fill="#262626" stroke="#262626" stroke-width="0.3">9</text>
<text x="664.2" y="405.10" font-family="Liberation Sans, Arial, Helvetica, sans-serif" font-size="16.4" fill="#d70a53" stroke="#d70a53" stroke-width="0.3">0</text>
<text x="664.2" y="368.54" font-family="Liberation Sans, Arial, Helvetica, sans-serif" font-size="16.4" fill="#d70a53" stroke="#d70a53" stroke-width="0.3">2</text>
<text x="664.2" y="331.99" font-family="Liberation Sans, Arial, Helvetica, sans-serif" font-size="16.4" fill="#d70a53" stroke="#d70a53" stroke-width="0.3">4</text>
<text x="664.2" y="295.43" font-family="Liberation Sans, Arial, Helvetica, sans-serif" font-size="16.4" fill="#d70a53" stroke="#d70a53" stroke-width="0.3">6</text>
<text x="664.2" y="258.88" font-family="Liberation Sans, Arial, Helvetica, sans-serif" font-size="16.4" fill="#d70a53" stroke="#d70a53" stroke-width="0.3">8</text>
<text x="661.2" y="222.32" font-family="Liberation Sans, Arial, Helvetica, sans-serif" font-size="16.4" fill="#d70a53" stroke="#d70a53" stroke-width="0.3">10</text>
<text x="661.2" y="185.77" font-family="Liberation Sans, Arial, Helvetica, sans-serif" font-size="16.4" fill="#d70a53" stroke="#d70a53" stroke-width="0.3">12</text>
<text x="661.2" y="149.21" font-family="Liberation Sans, Arial, Helvetica, sans-serif" font-size="16.4" fill="#d70a53" stroke="#d70a53" stroke-width="0.3">14</text>
<text x="661.2" y="112.66" font-family="Liberation Sans, Arial, Helvetica, sans-serif" font-size="16.4" fill="#d70a53" stroke="#d70a53" stroke-width="0.3">16</text>
<text x="661.2" y="76.10" font-family="Liberation Sans, Arial, Helvetica, sans-serif" font-size="16.4" fill="#d70a53" stroke="#d70a53" stroke-width="0.3">18</text>
<text x="138.40" y="420" text-anchor="middle" font-family="Liberation Sans, Arial, Helvetica, sans-serif" font-size="16.4" fill="#262626" stroke="#262626" stroke-width="0.3">04/05</text>
<text x="238.00" y="420" text-anchor="middle" font-family="Liberation Sans, Arial, Helvetica, sans-serif" font-size="16.4" fill="#262626" stroke="#262626" stroke-width="0.3">04/10</text>
<text x="337.60" y="420" text-anchor="middle" font-family="Liberation Sans, Arial, Helvetica, sans-serif" font-size="16.4" fill="#262626" stroke="#262626" stroke-width="0.3">04/15</text>
<text x="437.20" y="420" text-anchor="middle" font-family="Liberation Sans, Arial, Helvetica, sans-serif" font-size="16.4" fill="#262626" stroke="#262626" stroke-width="0.3">04/20</text>
<text x="536.80" y="420" text-anchor="middle" font-family="Liberation Sans, Arial, Helvetica, sans-serif" font-size="16.4" fill="#262626" stroke="#262626" stroke-width="0.3">04/25</text>
<text x="636.40" y="420" text-anchor="middle" font-family="Liberation Sans, Arial, Helvetica, sans-serif" font-size="16.4" fill="#262626" stroke="#262626" stroke-width="0.3">04/30</text>
<text x="356.9" y="42" text-anchor="middle" textLength="319.2" lengthAdjust="spacing" font-family="Liberation Sans, Arial, Helvetica, sans-serif" font-size="16.3" font-weight="bold" fill="#000" stroke="#000" stroke-width="0.3">Northern Hemisphere 365 / 375 = 97.333%</text>
<text x="356.6" y="62" text-anchor="middle" textLength="345.4" lengthAdjust="spacing" font-family="Liberation Sans, Arial, Helvetica, sans-serif" font-size="16.3" font-weight="bold" fill="#000" stroke="#000" stroke-width="0.3">AIRCRAFT_V_WIND_COMPONENT @ 150 hPa</text>
<text x="356.7" y="441" text-anchor="middle" textLength="190.2" lengthAdjust="spacing" font-family="Liberation Sans, Arial, Helvetica, sans-serif" font-size="16.3" fill="#262626" stroke="#262626" stroke-width="0.3">Apr.01,2018 00:00:00 start</text>
<text transform="translate(37.4 234.3) rotate(-90)" text-anchor="middle" textLength="152.2" lengthAdjust="spacing" font-family="Liberation Sans, Arial, Helvetica, sans-serif" font-size="16" fill="#262626" stroke="#262626" stroke-width="0.3">rmse and totalspread</text>
<text transform="translate(698.2 360.6) rotate(-90)" textLength="150.7" lengthAdjust="spacing" font-family="Liberation Sans, Arial, Helvetica, sans-serif" font-size="16" fill="#d70a53" stroke="#d70a53" stroke-width="0.3"># of obs: o=possible;</text>
<text transform="translate(703.9 201.5) rotate(-90)" text-anchor="middle" font-family="Liberation Sans, Arial, Helvetica, sans-serif" font-size="16" fill="#d70a53" stroke="#d70a53" stroke-width="0.3">*</text>
<text transform="translate(698.2 107.3) rotate(-90)" text-anchor="end" textLength="90.9" lengthAdjust="spacing" font-family="Liberation Sans, Arial, Helvetica, sans-serif" font-size="16" fill="#d70a53" stroke="#d70a53" stroke-width="0.3">=assimilated</text>
<text x="146.3" y="458" font-family="Liberation Sans, Arial, Helvetica, sans-serif" font-size="8" fill="#000" stroke="#000" stroke-width="0.2">data file: /Users/raeder/DAI/ATM_forcXX/CAM6_setup/f.e21.FHIST_BGC.f09_025.CAM6assim.011/Diags_NTrS_2018-04/obs_diag_output.nc</text>
</g>
</svg>
</body></html>
